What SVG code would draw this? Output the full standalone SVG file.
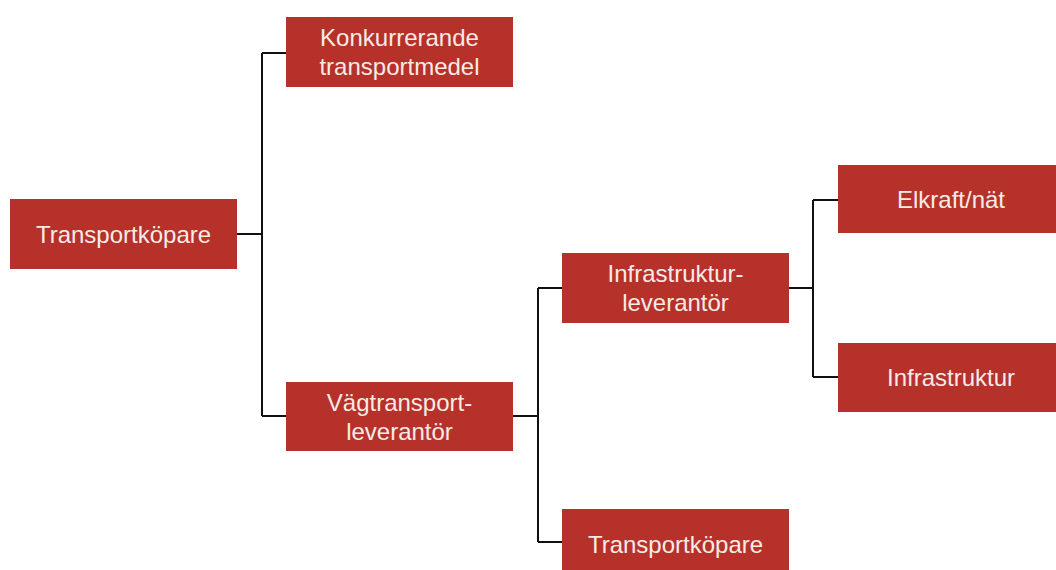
<svg xmlns="http://www.w3.org/2000/svg" width="1056" height="570" viewBox="0 0 1056 570">
<style>
.box{fill:#b6312a}
.t{font-family:"Liberation Sans",Arial,sans-serif;font-size:24px;fill:#f7ebe6;text-anchor:middle}
.c{fill:none;stroke:#111;stroke-width:2}
</style>
<rect width="1056" height="570" fill="#fff"/>
<g id="connectors">
<path class="c" d="M237 234H262M262 53V416M262 53H286M262 416H286"/>
<path class="c" d="M513 416H538M538 288V542M538 288H562M538 542H562"/>
<path class="c" d="M789 288H813M813 200V377M813 200H838M813 377H838"/>
</g>
<g id="n1"><rect class="box" x="10" y="199" width="227" height="70"/><text class="t" x="123.5" y="242.5">Transportköpare</text></g>
<g id="n2"><rect class="box" x="286" y="17" width="227" height="70"/><text class="t" x="399.5" y="46">Konkurrerande</text><text class="t" x="399.5" y="75">transportmedel</text></g>
<g id="n3"><rect class="box" x="286" y="382" width="227" height="69"/><text class="t" x="399.5" y="410.5">Vägtransport-</text><text class="t" x="399.5" y="439.5">leverantör</text></g>
<g id="n4"><rect class="box" x="562" y="253" width="227" height="70"/><text class="t" x="675.5" y="282">Infrastruktur-</text><text class="t" x="675.5" y="311">leverantör</text></g>
<g id="n5"><rect class="box" x="838" y="165" width="230" height="68"/><text class="t" x="951" y="207.5">Elkraft/nät</text></g>
<g id="n6"><rect class="box" x="838" y="343" width="230" height="69"/><text class="t" x="951" y="386">Infrastruktur</text></g>
<g id="n7"><rect class="box" x="562" y="509" width="227" height="70"/><text class="t" x="675.5" y="552.5">Transportköpare</text></g>
</svg>
